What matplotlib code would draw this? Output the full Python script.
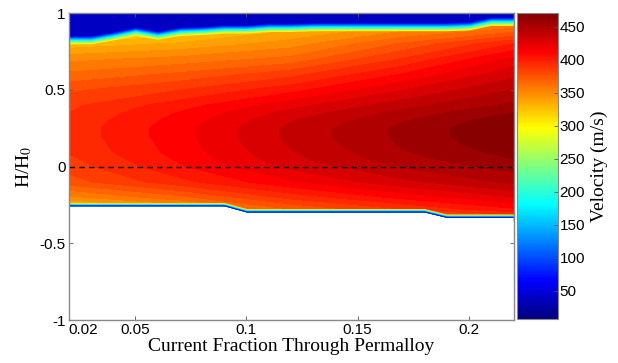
import numpy as np
import matplotlib
matplotlib.use("Agg")
import matplotlib.pyplot as plt
from matplotlib.colors import Normalize, LinearSegmentedColormap

# velocity (m/s), rows = H/H0, cols = current fraction
x_grid = [0.02, 0.07, 0.12, 0.17, 0.22]
h_grid = [-0.35, -0.28, -0.2, -0.1, 0.0, 0.05, 0.1, 0.15, 0.2, 0.25,
          0.3, 0.35, 0.4, 0.5, 0.6, 0.7, 0.8, 0.9, 1.0]
velocity = [
    [300, 320, 345, 358, 370],
    [320, 340, 370, 388, 405],
    [350, 368, 392, 410, 425],
    [376, 395, 415, 432, 446],
    [384, 406, 428, 444, 457],
    [387, 409, 432, 449, 462],
    [390, 411, 434, 452, 466],
    [391, 412, 436, 454, 469],
    [392, 413, 437, 455, 471],
    [392, 413, 437, 455, 471],
    [391, 411, 434, 452, 468],
    [389, 408, 429, 447, 462],
    [387, 403, 422, 440, 455],
    [378, 389, 404, 425, 444],
    [364, 373, 386, 408, 432],
    [350, 356, 365, 390, 419],
    [328, 336, 348, 372, 398],
    [305, 312, 332, 348, 362],
    [285, 290, 310, 320, 330],
]

# edges of the region where the wall moves
x_edge = [0.02, 0.03, 0.04, 0.05, 0.06, 0.07, 0.08, 0.09, 0.10, 0.11, 0.12,
          0.13, 0.14, 0.15, 0.16, 0.17, 0.18, 0.19, 0.20, 0.21, 0.22]
top_edge = [0.855, 0.855, 0.88, 0.91, 0.885, 0.91, 0.915, 0.925, 0.925, 0.935, 0.935,
            0.94, 0.94, 0.94, 0.94, 0.94, 0.94, 0.94, 0.945, 0.975, 0.975]
bottom_edge = [-0.255, -0.255, -0.255, -0.255, -0.255, -0.255, -0.255, -0.255, -0.295, -0.295, -0.295,
               -0.295, -0.295, -0.295, -0.295, -0.295, -0.295, -0.33, -0.33, -0.33, -0.33]
stalled_v = 38

v_min, v_max = 7, 471
cbar_ticks = [50, 100, 150, 200, 250, 300, 350, 400, 450]

plt.rcParams["mathtext.fontset"] = "stix"
# MATLAB-style jet (matplotlib's jet keeps some green in the reds)
cmap = LinearSegmentedColormap.from_list("mjet", [
    (0.0, (0, 0, 0.5)), (0.125, (0, 0, 1)), (0.375, (0, 1, 1)),
    (0.625, (1, 1, 0)), (0.875, (1, 0, 0)), (1.0, (0.5, 0, 0))])
norm = Normalize(v_min, v_max)

fig = plt.figure(figsize=(6.18, 3.63), dpi=100)
ax = fig.add_axes([0.111, 0.118, 0.721, 0.846])
cax = fig.add_axes([0.8366, 0.121, 0.0663, 0.843])

levels = np.linspace(v_min, v_max, 52)
ax.contourf(x_grid, h_grid, np.array(velocity), levels=levels, cmap=cmap, norm=norm, extend="both")

xe = np.array(x_edge)
te = np.array(top_edge)
be = np.array(bottom_edge)

# ramp down into the stalled region above the top edge
ramp = np.linspace(300, stalled_v, 14)
band = 0.055
for k, v in enumerate(ramp):
    ax.fill_between(xe, te - band * (1 - k / (len(ramp) - 1)), 1.0,
                    color=cmap(norm(v)), lw=0)

# thin ramp at the lower edge, white below
ax.fill_between(xe, -1.0, be, color="white", lw=0)
ramp_b = np.linspace(320, 40, 8)
band_b = 0.022
for k, v in enumerate(ramp_b):
    ax.fill_between(xe, be, be + band_b * (1 - k / len(ramp_b)),
                    color=cmap(norm(v)), lw=0)

ax.axhline(0, color="black", ls=(0, (4, 3)), lw=1)

ax.set_xlim(0.02, 0.2205)
ax.set_ylim(-1, 1)
ax.set_xticks([0.02, 0.05, 0.1, 0.15, 0.2])
ax.set_xticklabels(["0.02", "0.05", "0.1", "0.15", "0.2"])
ax.set_yticks([-1, -0.5, 0, 0.5, 1])
ax.set_yticklabels(["-1", "-0.5", "0", "0.5", "1"])
ax.tick_params(direction="in", length=3, width=0.6, labelsize=11, top=True, right=True,
               color="#555555", pad=2)
for lab in ax.get_xticklabels() + ax.get_yticklabels():
    lab.set_family("Liberation Sans")
ax.get_xticklabels()[0].set_ha("left")
for s in ax.spines.values():
    s.set_color("#888888")
    s.set_linewidth(1)

ax.set_xlabel("Current Fraction Through Permalloy", family="Liberation Serif", fontsize=14, labelpad=1)
ax.set_ylabel("H/H$_0$", family="Liberation Serif", fontsize=14, labelpad=4)

sm = plt.cm.ScalarMappable(norm=norm, cmap=cmap)
cb = fig.colorbar(sm, cax=cax, ticks=cbar_ticks)
cb.ax.tick_params(direction="in", length=3, width=0.6, labelsize=11, color="#555555", pad=1)
for lab in cb.ax.get_yticklabels():
    lab.set_family("Liberation Sans")
cb.outline.set_edgecolor("#888888")
cb.set_label("Velocity (m/s)", family="Liberation Serif", fontsize=14, labelpad=4)

fig.savefig("out.png", dpi=100)
